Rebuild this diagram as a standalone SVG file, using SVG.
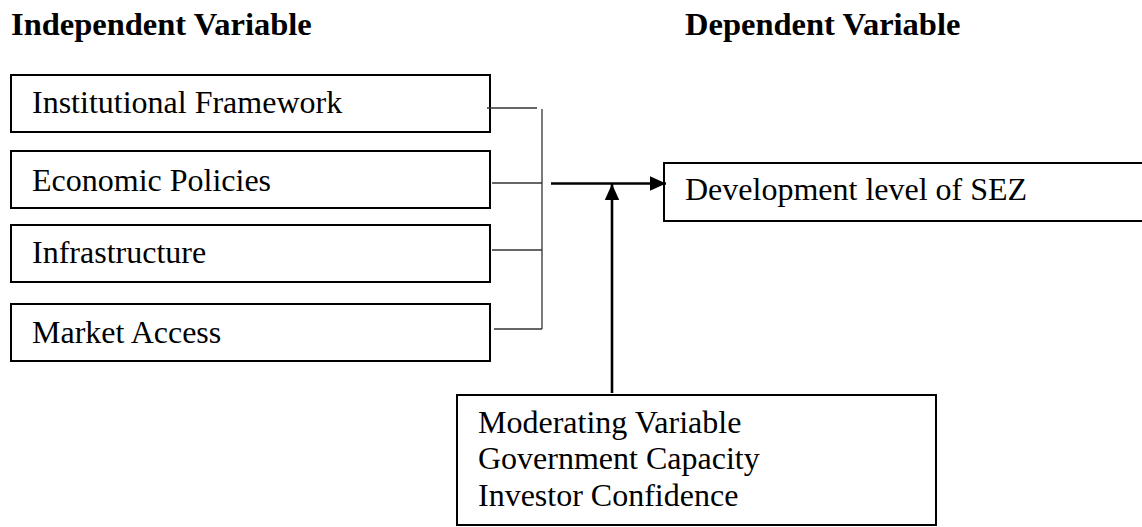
<svg xmlns="http://www.w3.org/2000/svg" width="1142" height="527" viewBox="0 0 1142 527">
<style>
.box{fill:#fff;stroke:#000;stroke-width:2}
.t{font-family:"Liberation Serif","Times New Roman",serif;font-size:32px;fill:#000}
.h{font-family:"Liberation Serif","Times New Roman",serif;font-size:32.5px;font-weight:bold;fill:#000}
.thin{stroke:#333;stroke-width:1.3;fill:none}
.arr{stroke:#000;stroke-width:2.6;fill:none}
</style>
<defs>
<marker id="ah" viewBox="0 0 10 10" refX="10" refY="5" markerUnits="userSpaceOnUse" markerWidth="16" markerHeight="16" orient="auto">
<path d="M0,0.5 L10,5 L0,9.5 Z" fill="#000"/>
</marker>
</defs>
<g id="headers">
<text class="h" x="11" y="35">Independent Variable</text>
<text class="h" x="685" y="35">Dependent Variable</text>
</g>
<g id="n-institutional">
<rect class="box" x="11" y="75" width="479" height="57"/>
<text class="t" x="32" y="113">Institutional Framework</text>
</g>
<g id="n-economic">
<rect class="box" x="11" y="151" width="479" height="57"/>
<text class="t" x="32" y="191">Economic Policies</text>
</g>
<g id="n-infrastructure">
<rect class="box" x="11" y="225" width="479" height="57"/>
<text class="t" x="32" y="263">Infrastructure</text>
</g>
<g id="n-market">
<rect class="box" x="11" y="304" width="479" height="57"/>
<text class="t" x="32" y="343">Market Access</text>
</g>
<g id="n-development">
<rect class="box" x="664" y="163" width="490" height="58"/>
<text class="t" x="685" y="200">Development level of SEZ</text>
</g>
<g id="n-moderating">
<rect class="box" x="457" y="395" width="479" height="130"/>
<text class="t" x="478" y="433">Moderating Variable</text>
<text class="t" x="478" y="469">Government Capacity</text>
<text class="t" x="478" y="506">Investor Confidence</text>
</g>
<g id="connectors">
<line class="thin" x1="487" y1="108" x2="537" y2="108"/>
<line class="thin" x1="542" y1="109" x2="542" y2="329"/>
<line class="thin" x1="492" y1="183" x2="542" y2="183"/>
<line class="thin" x1="492" y1="250" x2="542" y2="250"/>
<line class="thin" x1="494" y1="329" x2="542" y2="329"/>
<line class="arr" x1="551" y1="183.5" x2="666" y2="183.5" marker-end="url(#ah)"/>
<line class="arr" x1="612" y1="393" x2="612" y2="184" marker-end="url(#ah)"/>
</g>
</svg>
